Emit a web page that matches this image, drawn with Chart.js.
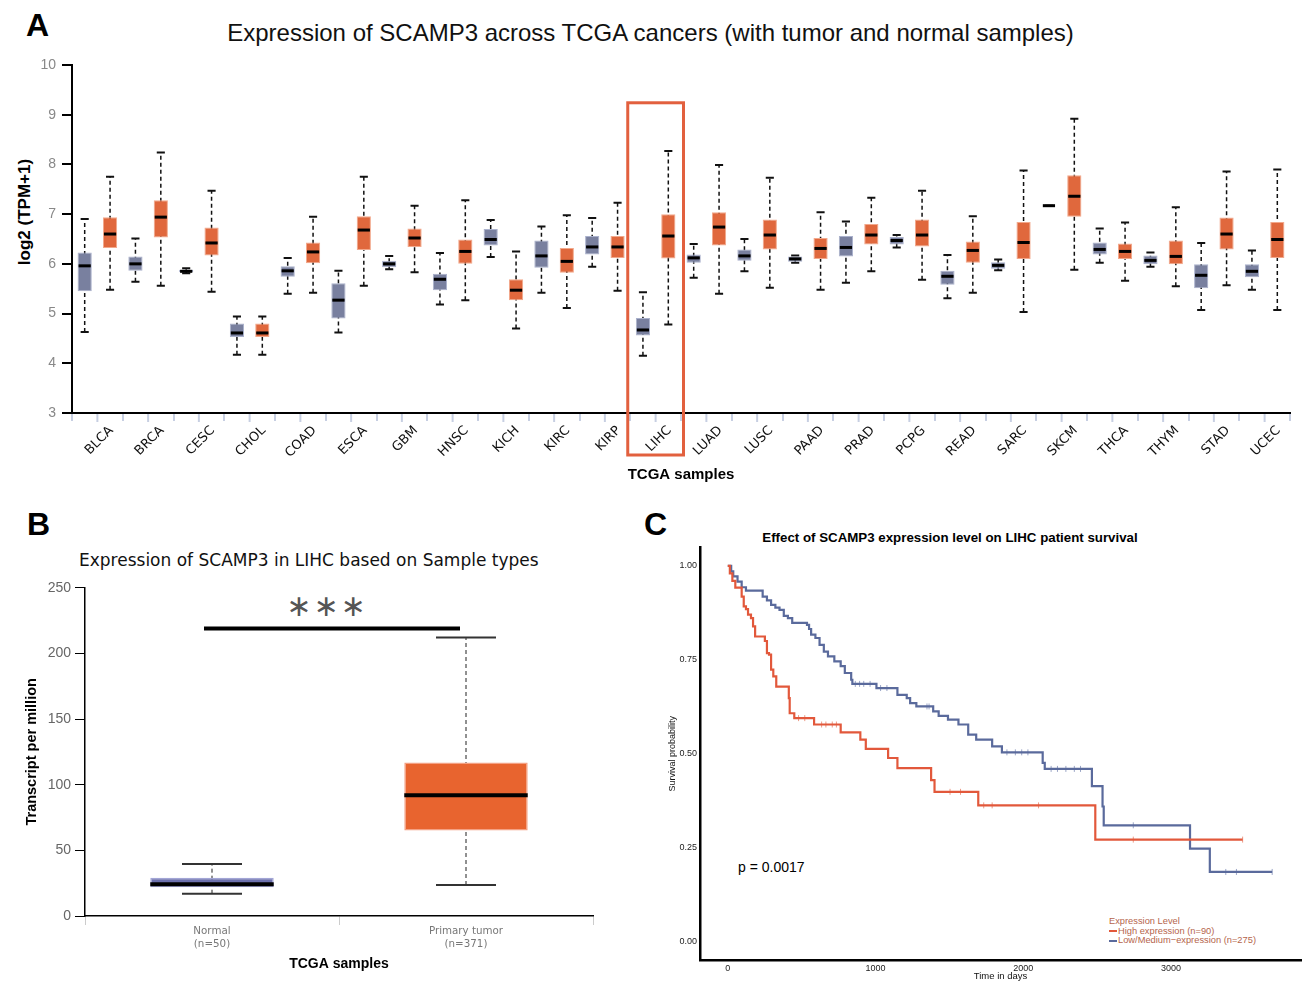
<!DOCTYPE html>
<html>
<head>
<meta charset="utf-8">
<script src="https://cdn.jsdelivr.net/npm/chart.js@4.4.1/dist/chart.umd.min.js"></script>
<style>
  html, body { margin: 0; padding: 0; background: #fff; }
  body { position: relative; width: 1306px; height: 981px; overflow: hidden; }
  .abs { position: absolute; white-space: nowrap; }
  .letter { font: bold 32px "Liberation Sans", Arial, sans-serif; line-height: 32px; color: #000; }
  canvas { position: absolute; }
</style>
</head>
<body>
<div class="abs letter" style="left:26px;top:9px">A</div>
<div class="abs letter" style="left:27px;top:508px">B</div>
<div class="abs letter" style="left:644px;top:508px">C</div>

<div class="abs" style="left:0;width:1301px;top:20px;text-align:center;font:24px 'Liberation Sans',Arial,sans-serif;line-height:26px;color:#111">Expression of SCAMP3 across TCGA cancers (with tumor and normal samples)</div>
<div class="abs" style="left:25px;top:212px;transform:translate(-50%,-50%) rotate(-90deg);font:bold 17px 'Liberation Sans',Arial,sans-serif;line-height:20px;color:#000">log2 (TPM+1)</div>

<div class="abs" style="left:79px;top:549px;font:17px 'DejaVu Sans',sans-serif;line-height:22px;color:#111">Expression of SCAMP3 in LIHC based on Sample types</div>
<div class="abs" style="left:327px;top:606px;transform:translate(-50%,-50%);font:30px 'DejaVu Sans',sans-serif;line-height:30px;color:#555;letter-spacing:2px">&lowast;&lowast;&lowast;</div>

<div class="abs" style="left:950px;top:537px;transform:translate(-50%,-50%);font:bold 13.3px 'Liberation Sans',Arial,sans-serif;color:#000">Effect of SCAMP3 expression level on LIHC patient survival</div>
<div class="abs" style="left:738px;top:858px;font:14px 'Liberation Sans',Arial,sans-serif;line-height:18px;color:#000">p = 0.0017</div>
<div class="abs" style="left:1109px;top:917px;font:9.3px 'Liberation Sans',Arial,sans-serif;line-height:9.5px;color:#b5654c">
  Expression Level<br>
  <span style="display:inline-block;width:8px;height:2px;background:#e2583b;vertical-align:middle;margin-right:1px"></span>High expression (n=90)<br>
  <span style="display:inline-block;width:8px;height:2px;background:#5a6a9c;vertical-align:middle;margin-right:1px"></span>Low/Medium&minus;expression (n=275)
</div>

<canvas id="chartA" width="1306" height="490" style="left:0;top:0"></canvas>
<canvas id="chartB" width="620" height="411" style="left:0;top:570px"></canvas>
<canvas id="chartC" width="666" height="480" style="left:640px;top:510px"></canvas>

<script>
// ---- Panel A: SCAMP3 across TCGA cancers ----
var cancers = ['BLCA', 'BRCA', 'CESC', 'CHOL', 'COAD', 'ESCA', 'GBM', 'HNSC', 'KICH', 'KIRC', 'KIRP', 'LIHC',
    'LUAD', 'LUSC', 'PAAD', 'PRAD', 'PCPG', 'READ', 'SARC', 'SKCM', 'THCA', 'THYM', 'STAD', 'UCEC'];
var normalMin = [4.63, 5.64, 5.81, 4.17, 5.40, 4.62, 5.89, 5.18, 6.14, 5.42, 5.94, 4.15, 5.72, 5.85, 6.02, 5.62, 6.33, 5.31, 5.87, 7.17, 6.02, 5.94, 5.07, 5.48];
var normalQ1 = [5.45, 5.86, 5.83, 4.53, 5.74, 4.90, 5.93, 5.47, 6.37, 5.92, 6.19, 4.56, 6.02, 6.06, 6.04, 6.15, 6.39, 5.58, 5.90, 7.17, 6.19, 5.99, 5.51, 5.73];
var normalMed = [5.96, 6.00, 5.85, 4.61, 5.86, 5.27, 6.00, 5.69, 6.49, 6.16, 6.34, 4.67, 6.12, 6.16, 6.10, 6.33, 6.47, 5.75, 5.97, 7.17, 6.29, 6.07, 5.77, 5.85];
var normalQ3 = [6.23, 6.15, 5.88, 4.80, 5.95, 5.61, 6.06, 5.80, 6.70, 6.47, 6.56, 4.91, 6.19, 6.29, 6.15, 6.56, 6.54, 5.86, 6.03, 7.17, 6.43, 6.17, 5.99, 5.99];
var normalMax = [6.90, 6.51, 5.91, 4.94, 6.12, 5.86, 6.16, 6.22, 6.88, 6.75, 6.92, 5.43, 6.40, 6.50, 6.17, 6.85, 6.58, 6.18, 6.09, 7.17, 6.71, 6.23, 6.42, 6.27];
var tumorMin = [5.48, 5.56, 5.44, 4.17, 5.42, 5.56, 5.83, 5.27, 4.70, 5.11, 5.46, 4.78, 5.40, 5.52, 5.48, 5.85, 5.68, 5.42, 5.03, 5.88, 5.66, 5.55, 5.57, 5.07];
var tumorQ1 = [6.32, 6.53, 6.17, 4.53, 6.01, 6.28, 6.34, 6.00, 5.27, 5.82, 6.12, 6.11, 6.37, 6.29, 6.10, 6.39, 6.35, 6.02, 6.10, 6.95, 6.10, 5.99, 6.29, 6.12];
var tumorMed = [6.60, 6.94, 6.42, 4.61, 6.24, 6.68, 6.52, 6.25, 5.47, 6.05, 6.34, 6.56, 6.74, 6.58, 6.31, 6.58, 6.58, 6.27, 6.43, 7.36, 6.25, 6.15, 6.60, 6.49];
var tumorQ3 = [6.94, 7.28, 6.73, 4.80, 6.43, 6.96, 6.71, 6.49, 5.69, 6.32, 6.56, 7.00, 7.04, 6.89, 6.52, 6.80, 6.89, 6.45, 6.84, 7.78, 6.41, 6.47, 6.93, 6.84];
var tumorMax = [7.75, 8.24, 7.47, 4.94, 6.95, 7.75, 7.17, 7.28, 6.25, 6.98, 7.23, 8.27, 7.99, 7.73, 7.04, 7.33, 7.47, 6.96, 7.88, 8.92, 6.83, 7.14, 7.86, 7.90];
var yTicksA = [3, 4, 5, 6, 7, 8, 9, 10];

// ---- Panel B: LIHC sample types ----
var sampleTypes = [['Normal', '(n=50)'], ['Primary tumor', '(n=371)']];
var bMin = [17.0, 23.6];
var bQ1 = [21.8, 65.2];
var bMed = [24.1, 91.9];
var bQ3 = [29.2, 116.8];
var bMax = [39.6, 212.0];
var yTicksB = [0, 50, 100, 150, 200, 250];
var sigLevel = 219;

// ---- Panel C: survival ----
var highTime = [0, 14, 31, 51, 94, 108, 123, 137, 157, 171, 185, 251, 265, 279, 293, 308, 328, 413, 419, 450,
    584, 764, 897, 934, 1085, 1148, 1376, 1399, 1695, 2487, 3484];
var highSurv = [1, 0.98, 0.96, 0.942, 0.918, 0.892, 0.885, 0.87, 0.861, 0.839, 0.812, 0.80, 0.768, 0.764, 0.724, 0.706, 0.679, 0.648, 0.608, 0.595,
    0.578, 0.557, 0.538, 0.513, 0.489, 0.462, 0.43, 0.399, 0.363, 0.272, 0.272];
var lowTime = [0, 23, 37, 66, 94, 123, 236, 265, 293, 322, 350, 379, 407, 436, 536, 550, 564, 593, 621, 650, 678,
    721, 764, 792, 835, 843, 1006, 1148, 1211, 1234, 1276, 1390, 1427, 1490, 1561, 1627, 1681, 1789, 1855,
    2131, 2145, 2464, 2536, 2544, 3128, 3262, 3684];
var lowSurv = [1, 0.985, 0.972, 0.958, 0.943, 0.934, 0.918, 0.908, 0.896, 0.889, 0.883, 0.867, 0.861, 0.848, 0.843, 0.832, 0.817, 0.808, 0.790, 0.772, 0.759,
    0.746, 0.733, 0.715, 0.697, 0.686, 0.675, 0.657, 0.648, 0.635, 0.626, 0.613, 0.601, 0.591, 0.578, 0.551, 0.538, 0.520, 0.504,
    0.476, 0.460, 0.414, 0.36, 0.31, 0.248, 0.186, 0.186];
var highCensorTime = [479, 521, 635, 664, 707, 735, 1504, 1575, 1732, 1789, 2103, 2744, 3484];
var highCensorSurv = [0.595, 0.595, 0.578, 0.578, 0.578, 0.578, 0.399, 0.399, 0.363, 0.363, 0.363, 0.272, 0.272];
var lowCensorTime = [863, 892, 920, 963, 1034, 1077, 1348, 1362, 1889, 1946, 1989, 2031, 2188, 2231, 2288, 2345, 2387, 2744, 3370, 3442, 3684];
var lowCensorSurv = [0.686, 0.686, 0.686, 0.686, 0.675, 0.675, 0.626, 0.626, 0.504, 0.504, 0.504, 0.504, 0.460, 0.460, 0.460, 0.460, 0.460, 0.31, 0.186, 0.186, 0.186];
var xTicksC = [0, 1000, 2000, 3000];
var yTicksC = [0, 0.25, 0.5, 0.75, 1];

// whiskers behind the boxes, medians on top
let makeBoxPlugin = (mins, maxs, meds, st) => ({
    id: 'boxWhisker',
    beforeDatasetsDraw(chart) {
        let ctx = chart.ctx, y = chart.scales.y
        ctx.save()
        mins.forEach((mn, d) => {
            chart.getDatasetMeta(d).data.forEach((bar, i) => {
                let y0 = y.getPixelForValue(mn[i]), y1 = y.getPixelForValue(maxs[d][i])
                let half = bar.width * st.capFrac / 2
                ctx.setLineDash(st.dash)
                ctx.lineWidth = st.whiskerWidth
                ctx.strokeStyle = st.whiskerColor
                ctx.beginPath(); ctx.moveTo(bar.x, y0); ctx.lineTo(bar.x, y1); ctx.stroke()
                ctx.setLineDash([])
                ctx.lineWidth = st.capWidth
                ctx.strokeStyle = st.capColor
                ctx.beginPath()
                ctx.moveTo(bar.x - half, y0); ctx.lineTo(bar.x + half, y0)
                ctx.moveTo(bar.x - half, y1); ctx.lineTo(bar.x + half, y1)
                ctx.stroke()
            })
        })
        ctx.restore()
    },
    afterDatasetsDraw(chart) {
        let ctx = chart.ctx, y = chart.scales.y
        ctx.save()
        meds.forEach((md, d) => {
            chart.getDatasetMeta(d).data.forEach((bar, i) => {
                let ym = y.getPixelForValue(md[i]), half = bar.width * st.medFrac / 2
                ctx.lineWidth = st.medWidth
                ctx.strokeStyle = '#000'
                ctx.beginPath(); ctx.moveTo(bar.x - half, ym); ctx.lineTo(bar.x + half, ym); ctx.stroke()
            })
        })
        ctx.restore()
    }
})

// extra tick marks at category centres + LIHC highlight box
let panelAExtras = {
    id: 'panelAExtras',
    afterDraw(chart) {
        let ctx = chart.ctx, x = chart.scales.x, y = chart.scales.y
        let bottom = chart.chartArea.bottom
        ctx.save()
        ctx.strokeStyle = '#c7cfe2'
        ctx.lineWidth = 2
        cancers.forEach((c, i) => {
            let px = x.getPixelForValue(i)
            ctx.beginPath(); ctx.moveTo(px, bottom + 1); ctx.lineTo(px, bottom + 9); ctx.stroke()
        })
        let li = cancers.indexOf('LIHC')
        let cx = x.getPixelForValue(li), half = (x.width / cancers.length) / 2 + 2.5
        ctx.strokeStyle = '#e2603e'
        ctx.lineWidth = 3
        ctx.strokeRect(cx - half, y.getPixelForValue(9.24), half * 2, bottom + 42 - y.getPixelForValue(9.24))
        ctx.restore()
    }
}

let sigBar = {
    id: 'sigBar',
    afterDatasetsDraw(chart) {
        let ctx = chart.ctx, x = chart.scales.x, y = chart.scales.y
        let yy = y.getPixelForValue(sigLevel)
        ctx.save()
        ctx.strokeStyle = '#000'
        ctx.lineWidth = 4
        ctx.beginPath(); ctx.moveTo(x.getPixelForValue(0) - 8, yy); ctx.lineTo(x.getPixelForValue(1) - 6, yy); ctx.stroke()
        ctx.restore()
    }
}

new Chart(document.getElementById('chartA'), {
    type: 'bar',
    data: {
        labels: cancers,
        datasets: [{
            label: 'Normal',
            data: cancers.map((c, i) => [normalQ1[i], normalQ3[i]]),
            backgroundColor: '#79809f',
            borderColor: '#aab1cc',
            borderWidth: 1,
            borderSkipped: false,
            categoryPercentage: 1,
            barPercentage: 0.56
        }, {
            label: 'Tumor',
            data: cancers.map((c, i) => [tumorQ1[i], tumorQ3[i]]),
            backgroundColor: '#e0683d',
            borderColor: '#f2a88b',
            borderWidth: 1,
            borderSkipped: false,
            categoryPercentage: 1,
            barPercentage: 0.56
        }]
    },
    options: {
        responsive: false,
        animation: false,
        layout: { padding: { top: 65, right: 16, left: 0, bottom: 0 } },
        plugins: { legend: { display: false }, tooltip: { enabled: false } },
        scales: {
            x: {
                grid: { drawOnChartArea: false, drawTicks: true, tickLength: 8, color: '#c7cfe2', lineWidth: 2, offset: true },
                border: { display: true, color: '#000', width: 2 },
                ticks: { autoSkip: false, minRotation: 45, maxRotation: 45, labelOffset: 14, padding: 2, color: '#111',
                    font: { family: 'DejaVu Sans', size: 13 } },
                title: { display: true, text: 'TCGA samples', color: '#000',
                    font: { family: 'Liberation Sans', size: 15, weight: 'bold' }, padding: { top: 0, bottom: 6 } },
                afterFit: (s) => { s.height = 77 }
            },
            y: {
                min: 3,
                max: 10,
                afterBuildTicks: (s) => { s.ticks = yTicksA.map(v => ({ value: v })) },
                ticks: { color: '#888', padding: 6, font: { family: 'Liberation Sans', size: 14 } },
                grid: { drawOnChartArea: false, drawTicks: true, tickLength: 10, color: '#000', lineWidth: 2 },
                border: { display: true, color: '#000', width: 2 },
                afterFit: (s) => { s.width = 72 }
            }
        }
    },
    plugins: [makeBoxPlugin([normalMin, tumorMin], [normalMax, tumorMax], [normalMed, tumorMed],
        { capFrac: 0.57, dash: [4, 3], whiskerWidth: 1.5, whiskerColor: '#111', capWidth: 2, capColor: '#111', medFrac: 0.86, medWidth: 3 }),
        panelAExtras]
});

new Chart(document.getElementById('chartB'), {
    type: 'bar',
    data: {
        labels: sampleTypes,
        datasets: [{
            data: sampleTypes.map((s, i) => [bQ1[i], bQ3[i]]),
            backgroundColor: ['#6c70ad', '#e8642f'],
            borderColor: ['#a3a6d6', '#f4a082'],
            borderWidth: 1.5,
            borderSkipped: false,
            categoryPercentage: 1,
            barPercentage: 0.486
        }]
    },
    options: {
        responsive: false,
        animation: false,
        layout: { padding: { top: 17.7, right: 27, left: 0, bottom: 0 } },
        plugins: { legend: { display: false }, tooltip: { enabled: false } },
        scales: {
            x: {
                grid: { drawOnChartArea: false, drawTicks: true, tickLength: 9, color: '#cccccc', lineWidth: 1, offset: true },
                border: { display: true, color: '#000', width: 1.5 },
                ticks: { padding: 0, color: '#777', font: { family: 'DejaVu Sans', size: 10.3, lineHeight: 1.25 } },
                title: { display: true, text: 'TCGA samples', color: '#000',
                    font: { family: 'Liberation Sans', size: 14, weight: 'bold' }, padding: { top: 0, bottom: 8.5 } },
                afterFit: (s) => { s.height = 65 }
            },
            y: {
                min: 0,
                max: 250,
                afterBuildTicks: (s) => { s.ticks = yTicksB.map(v => ({ value: v })) },
                ticks: { color: '#666', padding: 4, font: { family: 'Liberation Sans', size: 14 } },
                grid: { drawOnChartArea: false, drawTicks: true, tickLength: 10, color: '#000', lineWidth: 1 },
                border: { display: true, color: '#000', width: 1.5 },
                title: { display: true, text: 'Transcript per million', color: '#000',
                    font: { family: 'Liberation Sans', size: 14.5, weight: 'bold' }, padding: { top: 23, bottom: 0 } },
                afterFit: (s) => { s.width = 85 }
            }
        }
    },
    plugins: [makeBoxPlugin([bMin], [bMax], [bMed],
        { capFrac: 0.486, dash: [4, 3], whiskerWidth: 1, whiskerColor: '#222', capWidth: 2, capColor: '#333', medFrac: 1, medWidth: 4 }),
        sigBar]
});

let toPts = (t, s) => t.map((v, i) => ({ x: v, y: s[i] }))

new Chart(document.getElementById('chartC'), {
    type: 'line',
    data: {
        datasets: [{
            label: 'High expression (n=90)',
            data: toPts(highTime, highSurv),
            borderColor: '#e2583b',
            borderWidth: 2.2,
            stepped: true,
            pointRadius: 0,
            fill: false
        }, {
            label: 'Low/Medium-expression (n=275)',
            data: toPts(lowTime, lowSurv),
            borderColor: '#5a6a9c',
            borderWidth: 2.2,
            stepped: true,
            pointRadius: 0,
            fill: false
        }, {
            type: 'scatter',
            data: toPts(highCensorTime, highCensorSurv),
            pointStyle: 'line',
            rotation: 90,
            pointRadius: 3,
            borderWidth: 1,
            borderColor: '#ec9a86'
        }, {
            type: 'scatter',
            data: toPts(lowCensorTime, lowCensorSurv),
            pointStyle: 'line',
            rotation: 90,
            pointRadius: 3,
            borderWidth: 1,
            borderColor: '#9aa5c6'
        }]
    },
    options: {
        responsive: false,
        animation: false,
        layout: { padding: { top: 37, right: 0, left: 0, bottom: 0 } },
        plugins: { legend: { display: false }, tooltip: { enabled: false } },
        scales: {
            x: {
                type: 'linear',
                min: -188,
                max: 3879,
                afterBuildTicks: (s) => { s.ticks = xTicksC.map(v => ({ value: v })) },
                grid: { drawOnChartArea: false, drawTicks: false },
                border: { display: true, color: '#000', width: 2.5 },
                ticks: { padding: 2, color: '#222', font: { family: 'Liberation Sans', size: 9 },
                    callback: (v) => String(v) },
                title: { display: true, text: 'Time in days', color: '#111',
                    font: { family: 'Liberation Sans', size: 9.5 }, padding: { top: 0, bottom: 8 } },
                afterFit: (s) => { s.height = 29.3 }
            },
            y: {
                type: 'linear',
                min: -0.05,
                max: 1.05,
                afterBuildTicks: (s) => { s.ticks = yTicksC.map(v => ({ value: v })) },
                grid: { drawOnChartArea: false, drawTicks: false },
                border: { display: true, color: '#000', width: 2.5 },
                ticks: { padding: 3, color: '#222', font: { family: 'Liberation Sans', size: 9 },
                    callback: (v) => Number(v).toFixed(2) },
                title: { display: true, text: 'Survival probability', color: '#111',
                    font: { family: 'Liberation Sans', size: 9 }, padding: { top: 27, bottom: 0 } },
                afterFit: (s) => { s.width = 60 }
            }
        }
    }
});
</script>
</body>
</html>
